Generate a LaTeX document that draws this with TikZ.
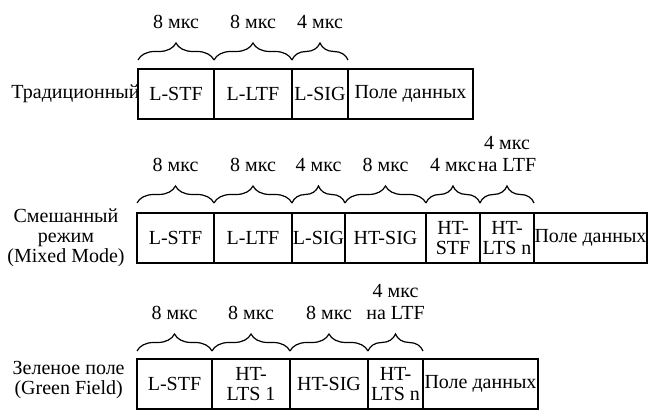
\documentclass[tikz,border=0pt]{standalone}
\usepackage{fontspec}
\setmainfont{Liberation Serif}
\usetikzlibrary{positioning,decorations.pathreplacing}

\begin{document}
\begin{tikzpicture}[
  x=0.5pt, y=-0.5pt,
  field/.style={draw, line width=0.7pt, minimum height=25pt, inner xsep=0pt, inner ysep=1pt, outer sep=0pt, align=center, font=\fontsize{10}{10}\selectfont},
  mode/.style={align=center, inner sep=0pt, font=\fontsize{10}{10}\selectfont},
  span/.style={decorate, decoration={brace, amplitude=8.5pt}, line width=0.6pt},
  dur/.style={midway, above=12pt, align=center, font=\fontsize{10}{11}\selectfont}
]
\useasboundingbox (0,0) rectangle (648,410);

% traditional
\node[field, minimum width=38pt, anchor=west] (tstf) at (138,94) {L-STF};
\node[field, minimum width=39pt, right=0pt of tstf] (tltf) {L-LTF};
\node[field, minimum width=28pt, right=0pt of tltf] (tsig) {L-SIG};
\node[field, minimum width=62.5pt, right=0pt of tsig] (tdata) {Поле данных};
\node[mode, left=-1pt of tstf] (tname) {Традиционный};
\draw[span] ([yshift=4.5pt]tstf.north west) -- ([yshift=4.5pt]tstf.north east) node[dur] {8 мкс};
\draw[span] ([yshift=4.5pt]tltf.north west) -- ([yshift=4.5pt]tltf.north east) node[dur] {8 мкс};
\draw[span] ([yshift=4.5pt]tsig.north west) -- ([yshift=4.5pt]tsig.north east) node[dur] {4 мкс};

% mixed mode
\node[field, minimum width=38.5pt, anchor=west] (mstf) at (137,238) {L-STF};
\node[field, minimum width=39pt, right=0pt of mstf] (mltf) {L-LTF};
\node[field, minimum width=26.5pt, right=0pt of mltf] (msig) {L-SIG};
\node[field, minimum width=40.5pt, right=0pt of msig] (mhtsig) {HT-SIG};
\node[field, minimum width=27pt, right=0pt of mhtsig] (mhtstf) {HT-\\STF};
\node[field, minimum width=27pt, right=0pt of mhtstf] (mhtlts) {HT-\\LTS n};
\node[field, minimum width=56.5pt, right=0pt of mhtlts] (mdata) {Поле данных};
\node[mode, left=6pt of mstf] (mname) {Смешанный\\режим\\(Mixed Mode)};
\draw[span] ([yshift=5pt]mstf.north west) -- ([yshift=5pt]mstf.north east) node[dur] {8 мкс};
\draw[span] ([yshift=5pt]mltf.north west) -- ([yshift=5pt]mltf.north east) node[dur] {8 мкс};
\draw[span] ([yshift=5pt]msig.north west) -- ([yshift=5pt]msig.north east) node[dur] {4 мкс};
\draw[span] ([yshift=5pt]mhtsig.north west) -- ([yshift=5pt]mhtsig.north east) node[dur] {8 мкс};
\draw[span] ([yshift=5pt]mhtstf.north west) -- ([yshift=5pt]mhtstf.north east) node[dur] {4 мкс};
\draw[span] ([yshift=5pt]mhtlts.north west) -- ([yshift=5pt]mhtlts.north east) node[dur] {4 мкс\\на LTF};

% green field
\node[field, minimum width=37.5pt, anchor=west] (gstf) at (137,384) {L-STF};
\node[field, minimum width=39pt, right=0pt of gstf] (glts) {HT-\\LTS 1};
\node[field, minimum width=39pt, right=0pt of glts] (gsig) {HT-SIG};
\node[field, minimum width=27.5pt, right=0pt of gsig] (gltsn) {HT-\\LTS n};
\node[field, minimum width=57.5pt, right=0pt of gltsn] (gdata) {Поле данных};
\node[mode, left=6pt of gstf, yshift=2pt] (gname) {Зеленое поле\\(Green Field)};
\draw[span] ([yshift=4pt]gstf.north west) -- ([yshift=4pt]gstf.north east) node[dur] {8 мкс};
\draw[span] ([yshift=4pt]glts.north west) -- ([yshift=4pt]glts.north east) node[dur] {8 мкс};
\draw[span] ([yshift=4pt]gsig.north west) -- ([yshift=4pt]gsig.north east) node[dur] {8 мкс};
\draw[span] ([yshift=4pt]gltsn.north west) -- ([yshift=4pt]gltsn.north east) node[dur] {4 мкс\\на LTF};
\end{tikzpicture}
\end{document}
